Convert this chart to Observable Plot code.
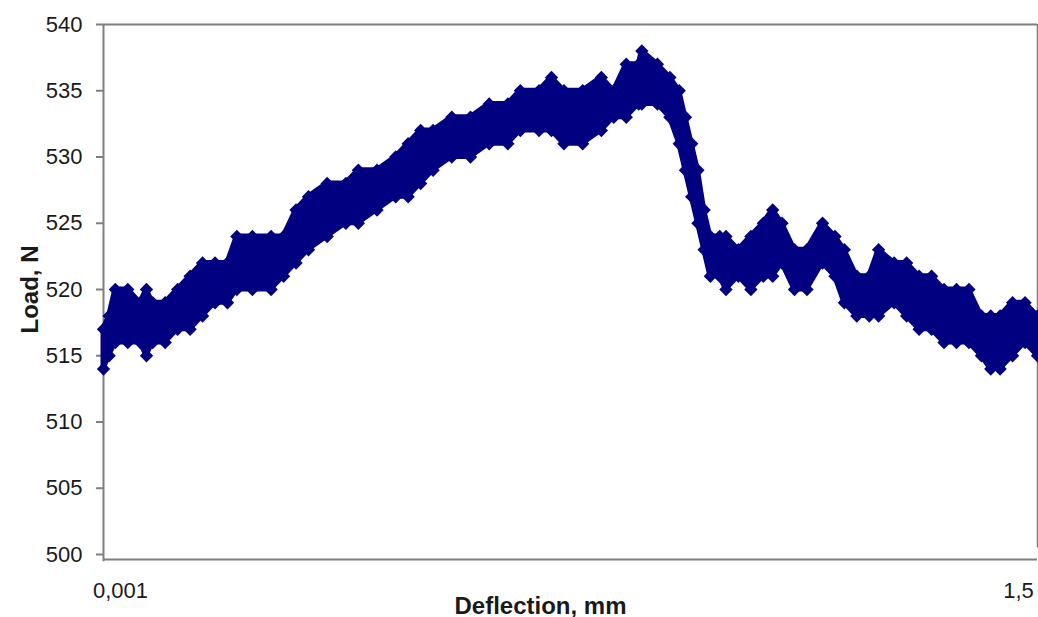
<!DOCTYPE html>
<html>
<head>
<meta charset="utf-8">
<script src="https://cdn.jsdelivr.net/npm/d3@7"></script>
<script src="https://cdn.jsdelivr.net/npm/@observablehq/plot@0.6"></script>
<style>
  html, body { margin: 0; padding: 0; background: #fff; }
  #chart { width: 1038px; height: 617px; }
</style>
</head>
<body>
<div id="chart"></div>
<script>
// Deflection (mm) sample columns
const deflection = [0.001, 0.01, 0.02, 0.04, 0.06, 0.07, 0.08, 0.10, 0.12, 0.14, 0.16, 0.18, 0.20, 0.215, 0.24, 0.27, 0.29, 0.31, 0.33, 0.36, 0.39, 0.41, 0.44, 0.47, 0.49, 0.51, 0.53, 0.56, 0.59, 0.62, 0.65, 0.67, 0.70, 0.72, 0.74, 0.77, 0.80, 0.82, 0.84, 0.86, 0.865, 0.89, 0.91, 0.925, 0.935, 0.945, 0.955, 0.965, 0.975, 0.99, 1.00, 1.02, 1.04, 1.06, 1.075, 1.09, 1.11, 1.13, 1.155, 1.175, 1.19, 1.21, 1.23, 1.245, 1.27, 1.29, 1.31, 1.33, 1.35, 1.37, 1.39, 1.41, 1.425, 1.44, 1.46, 1.48, 1.5];
// Lowest load reading (N) in each column
const loadLow = [514, 515, 516, 516, 516, 515, 516, 516, 517, 517, 518, 519, 519, 520, 520, 520, 521, 522, 523, 524, 525, 525, 526, 527, 527, 528, 529, 530, 530, 531, 531, 532, 532, 532, 531, 531, 532, 533, 533, 534, 534, 534, 533, 531, 529, 527, 525, 523, 521, 521, 520, 521, 520, 521, 521, 522, 520, 520, 522, 521, 519, 518, 518, 518, 519, 518, 517, 517, 516, 516, 516, 515, 514, 514, 515, 516, 515];
// Highest load reading (N) in each column
const loadHigh = [517, 518, 520, 520, 519, 520, 519, 519, 520, 521, 522, 522, 522, 524, 524, 524, 524, 526, 527, 528, 528, 529, 529, 530, 531, 532, 532, 533, 533, 534, 534, 535, 535, 536, 535, 535, 536, 535, 537, 537, 538, 537, 536, 535, 533, 531, 529, 526, 524, 524, 524, 523, 524, 525, 526, 525, 523, 523, 525, 524, 523, 521, 521, 523, 522, 522, 521, 521, 520, 520, 520, 518, 518, 518, 519, 519, 518];

const yTicks = [500, 505, 510, 515, 520, 525, 530, 535, 540];
const xTickFirst = 0.001;
const xTickLast = 1.5;
const xLabel = "Deflection, mm";
const yLabel = "Load, N";

const table = deflection.map((x, i) => ({x, lo: loadLow[i], hi: loadHigh[i]}));
const pts = table.flatMap(d => [{x: d.x, y: d.lo}, {x: d.x, y: d.hi}]);

const navy = "#000080";
const axisGray = "#7f7f7f";
const ink = "#1a1a1a";
const comma = v => String(v).replace(".", ",");

const chart = Plot.plot({
  width: 1038,
  height: 617,
  marginLeft: 103,
  marginRight: 1,
  marginTop: 24,
  marginBottom: 63,
  style: {fontFamily: "'Liberation Sans', Arial, sans-serif", background: "#fff", color: ink},
  x: {domain: [0.001, 1.5], axis: null},
  y: {domain: [500, 540], axis: null},
  marks: [
    Plot.axisY({ticks: yTicks, tickSize: 7, tickPadding: 14, tickFormat: d => d, fontSize: 22, stroke: axisGray, strokeWidth: 2, color: ink, label: null}),
    Plot.ruleX([xTickFirst], {y1: 499.45, y2: 540, stroke: axisGray, strokeWidth: 2}),
    Plot.ruleY([540], {x1: 0.001, x2: 1.5, stroke: axisGray, strokeWidth: 2}),
    Plot.ruleX([xTickLast], {y1: 500.5, y2: 540, stroke: axisGray, strokeWidth: 1.5}),
    Plot.ruleY([500], {x1: 0.001, x2: 1.5, dy: 5, stroke: axisGray, strokeWidth: 2}),
    Plot.areaY(table, {x: "x", y1: "lo", y2: "hi", fill: navy, stroke: navy, strokeWidth: 5, strokeLinejoin: "round", curve: "linear"}),
    Plot.dot(pts, {x: "x", y: "y", symbol: "diamond2", r: 6, fill: navy, stroke: "none"}),
    Plot.text([xTickFirst], {x: d => d, text: d => comma(d), frameAnchor: "bottom", lineAnchor: "bottom", dx: 17, dy: 43, fontSize: 22, fill: ink}),
    Plot.text([xTickLast], {x: d => d, text: d => comma(d), frameAnchor: "bottom", lineAnchor: "bottom", dx: -19, dy: 43, fontSize: 22, fill: ink}),
    Plot.text([xLabel], {text: d => d, frameAnchor: "bottom", lineAnchor: "bottom", textAnchor: "middle", dx: -30, dy: 59, fontSize: 24, fontWeight: "bold", fill: ink}),
    Plot.text([yLabel], {text: d => d, frameAnchor: "left", textAnchor: "middle", lineAnchor: "middle", dx: -73, rotate: -90, fontSize: 24, fontWeight: "bold", fill: ink})
  ]
});
document.getElementById("chart").appendChild(chart);
</script>
</body>
</html>
